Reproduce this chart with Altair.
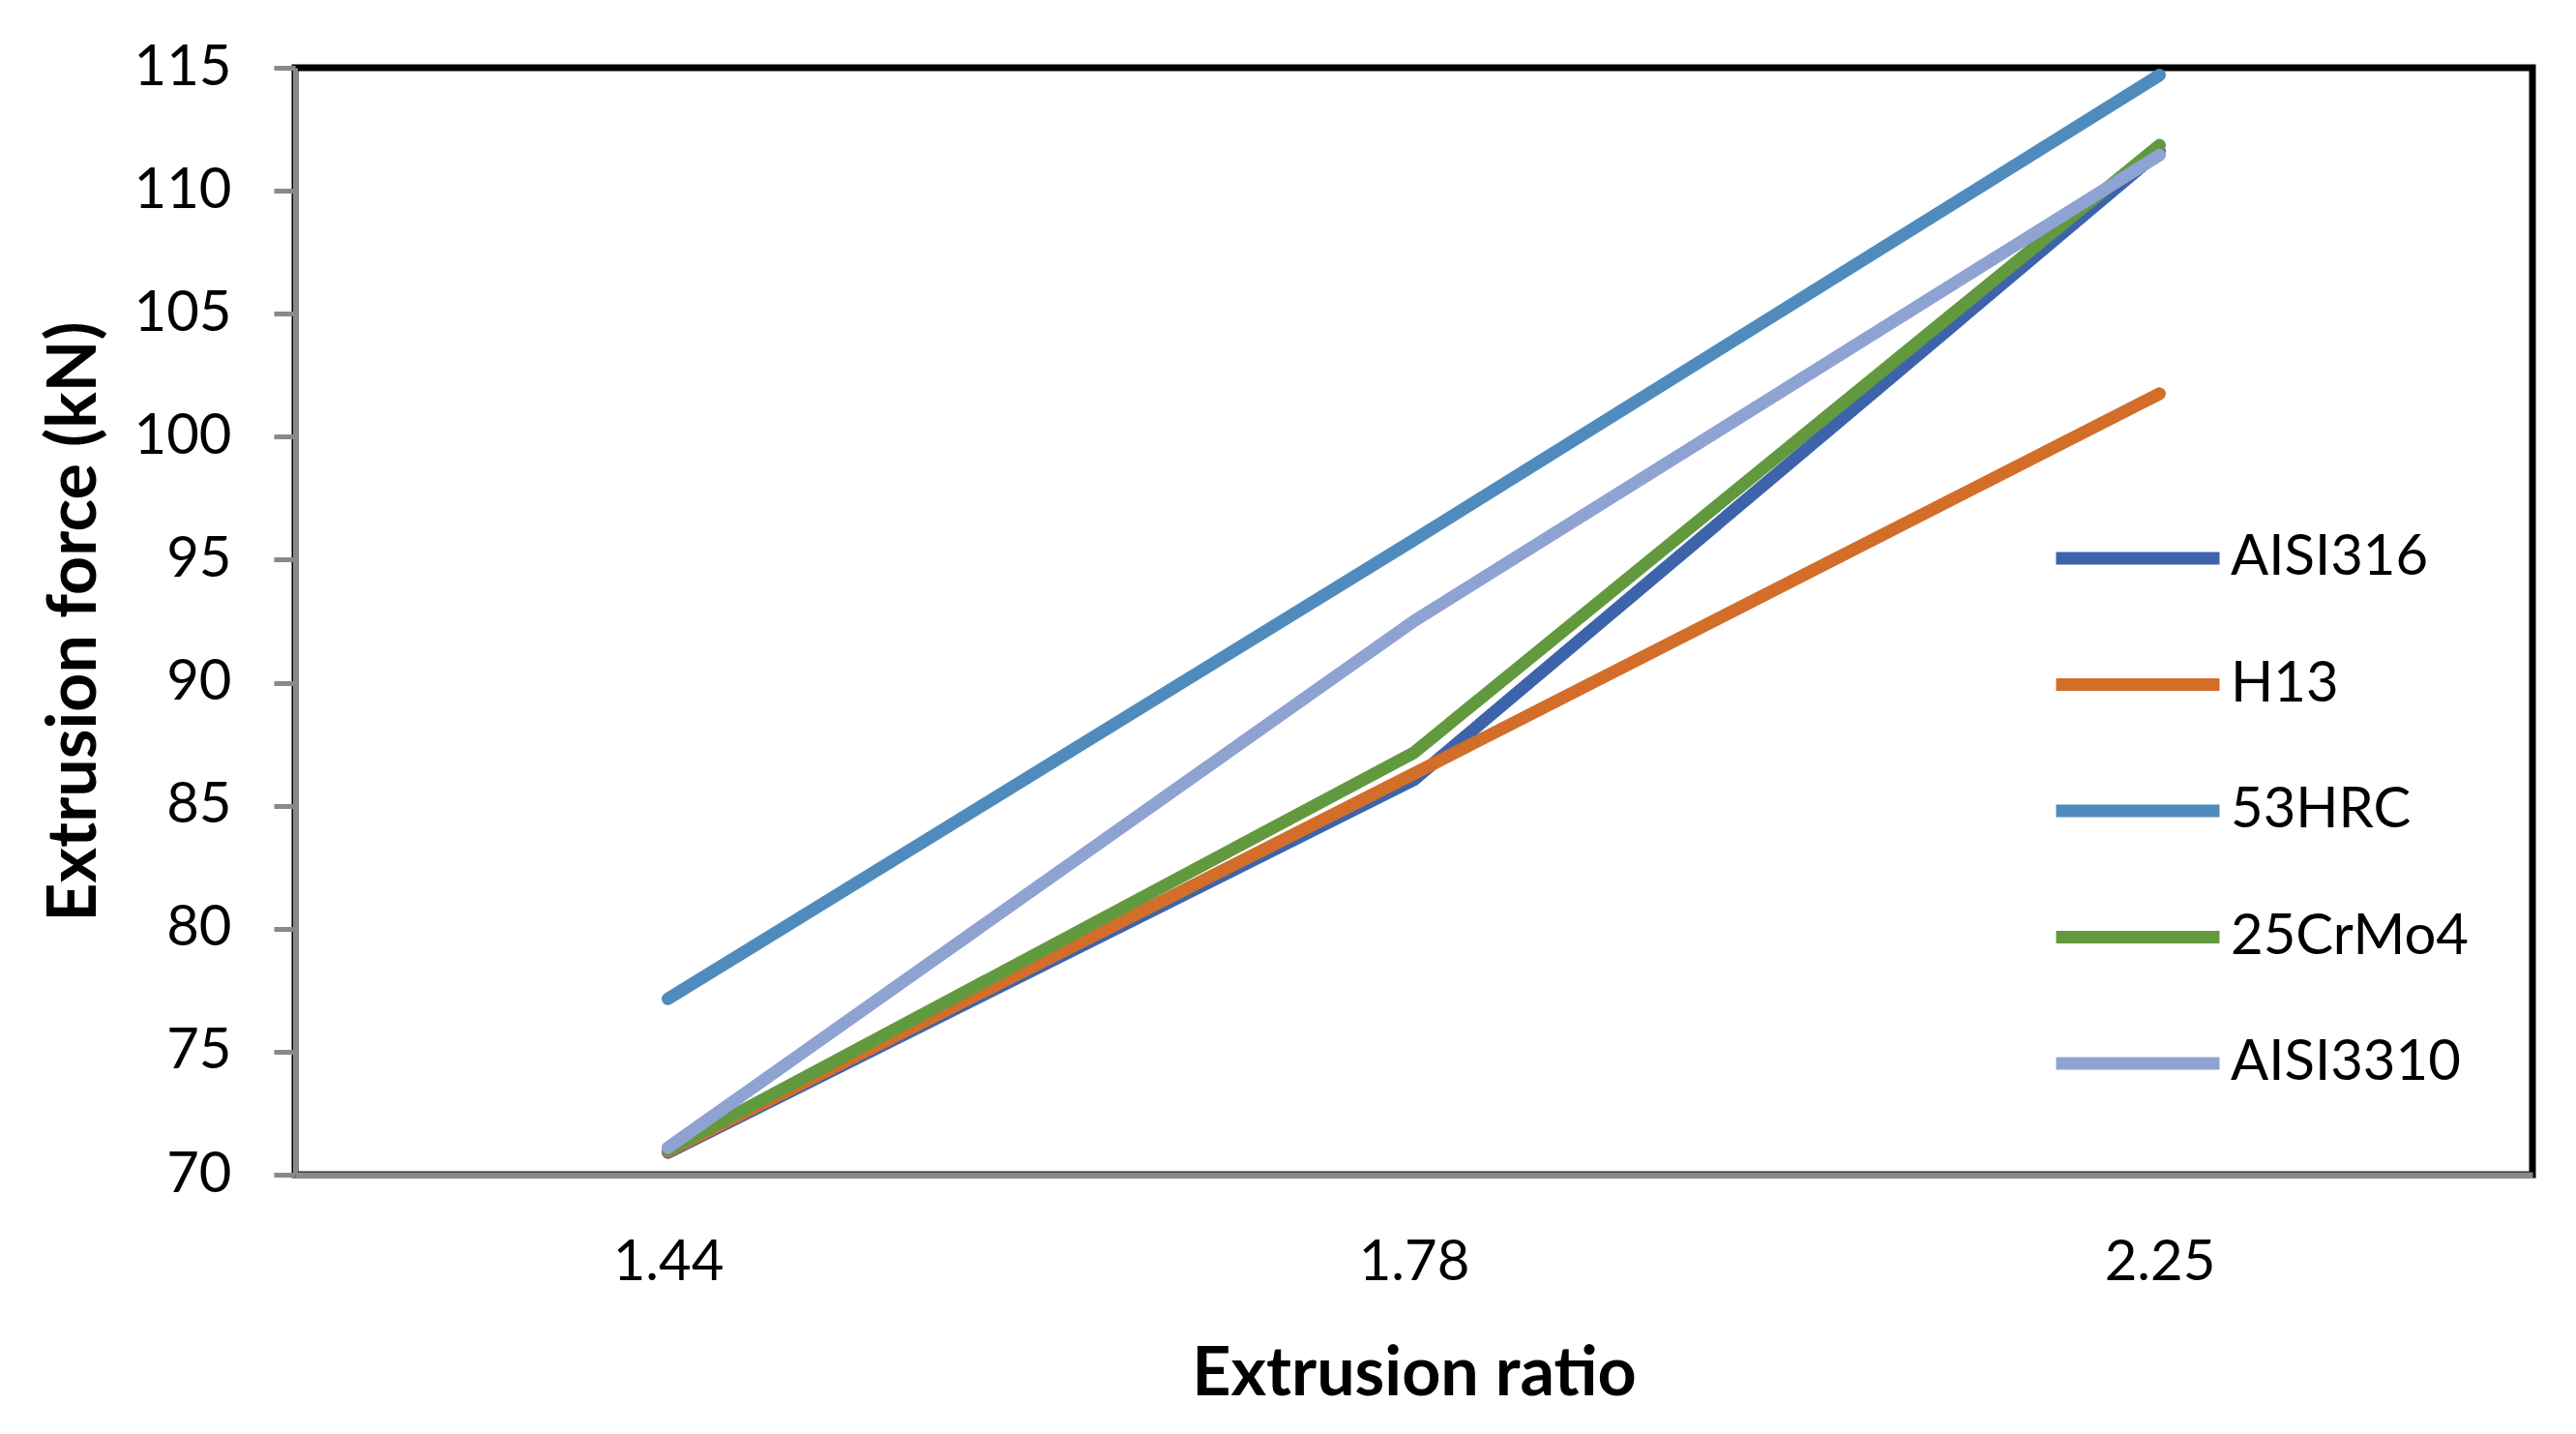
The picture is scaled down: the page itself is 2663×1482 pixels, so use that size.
import altair as alt
import pandas as pd

ratios = ["1.44", "1.78", "2.25"]
series_names = ["AISI316", "H13", "53HRC", "25CrMo4", "AISI3310"]
aisi316 = [70.9, 86.05, 111.6]
h13 = [70.95, 86.3, 101.75]
hrc53 = [77.15, 95.8, 114.7]
crmo4 = [71.0, 87.15, 111.85]
aisi3310 = [71.1, 92.5, 111.45]
colors = ["#3D64AA", "#D26E2A", "#4F8BBD", "#62993E", "#8FA3D3"]
y_ticks = [70, 75, 80, 85, 90, 95, 100, 105, 110, 115]

rows = []
for name, vals in zip(series_names, [aisi316, h13, hrc53, crmo4, aisi3310]):
    for r, v in zip(ratios, vals):
        rows.append({"ratio": r, "force": v, "material": name})
df = pd.DataFrame(rows)

FONT = "Lato"
W, H = 2313, 1144

chart = alt.Chart(df).mark_line(strokeWidth=13, strokeCap="round", strokeJoin="round").encode(
    x=alt.X("ratio:N", sort=ratios,
            scale=alt.Scale(paddingInner=0, paddingOuter=0.5),
            axis=alt.Axis(title="Extrusion ratio", labelAngle=0, ticks=False,
                          domainColor="#898989", domainWidth=6,
                          labelFont=FONT, labelFontSize=58, labelColor="black",
                          labelPadding=62,
                          titleFont=FONT, titleFontSize=70, titleFontWeight="bold",
                          titleColor="black", titleX=W / 2, titleY=206,
                          titleBaseline="middle", titleAlign="center")),
    y=alt.Y("force:Q",
            scale=alt.Scale(domain=[70, 115], nice=False, zero=False),
            axis=alt.Axis(title="Extrusion force (kN)", values=y_ticks, grid=False,
                          tickSize=22, tickWidth=5, tickColor="#898989",
                          domainColor="#898989", domainWidth=5,
                          labelFont=FONT, labelFontSize=58, labelColor="black",
                          labelPadding=44,
                          titleFont=FONT, titleFontSize=70, titleFontWeight="bold",
                          titleColor="black", titleX=-228, titleY=H / 2,
                          titleBaseline="middle", titleAlign="center", titleAngle=270)),
    color=alt.Color("material:N", sort=series_names,
                    scale=alt.Scale(domain=series_names, range=colors),
                    legend=alt.Legend(title=None, orient="none", legendX=1814, legendY=416,
                                      symbolType="stroke", symbolSize=28561,
                                      symbolStrokeWidth=13, labelFont=FONT,
                                      labelFontSize=58, labelColor="black", labelLimit=600,
                                      labelOffset=5, rowPadding=10.5)),
    order=alt.Order("material:N")
).properties(
    width=W, height=H,
    background="white",
    padding={"left": 297, "top": 62, "right": 18, "bottom": 260},
    autosize=alt.AutoSizeParams(type="none")
).configure_view(
    stroke="black", strokeWidth=7
)

chart.save("out.html", embed_options={"renderer": "svg", "actions": False})
